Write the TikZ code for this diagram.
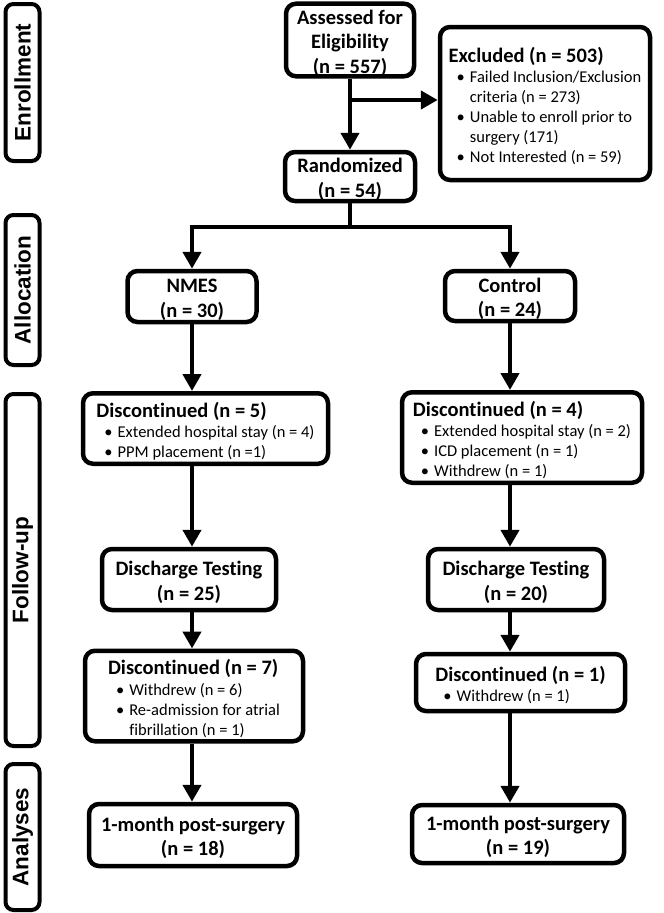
\documentclass[tikz,border=0pt]{standalone}
\usepackage{fontspec}
\setmainfont[Ligatures = NoCommon]{Carlito}
\newfontfamily\sideFamily{Liberation Sans}
\usepackage{tikz}
\usetikzlibrary{positioning, arrows.meta}
\newcommand{\titleFont}{\bfseries\fontsize{20.5}{24.5}\selectfont}
\newcommand{\itemFont}{\fontsize{16.5}{20}\selectfont}
\newcommand{\stageFont}{\sideFamily\bfseries\fontsize{22.5}{26}\selectfont}
\tikzstyle{chart} = [x = 1pt, y = -1pt]
\tikzstyle{stageStyle} = [draw, line width = 4pt, rounded corners = 8pt, rotate = 90, font = \stageFont, inner sep = 0pt, minimum height = 34pt]
\tikzstyle{countBoxStyle} = [draw, fill = white, line width = 4.5pt, rounded corners = 10pt, font = \titleFont, align = center, inner sep = 0pt]
\tikzstyle{listBoxStyle} = [draw, fill = white, line width = 4.5pt, rounded corners = 10pt, font = \itemFont, inner sep = 0pt]
\tikzstyle{flowLine} = [line width = 4.5pt]
\tikzstyle{flowArrow} = [flowLine, -{Triangle[length = 17pt, width = 18pt]}]
\newcommand{\stageLabel}[4]{\node [stageStyle, minimum width = #3] (#1) at (22.5, #2) {#4};}
\newcommand{\countBox}[6]{\node [countBoxStyle, minimum width = #4, minimum height = #5] (#1) at (#2, #3) {\rule{0pt}{20.5pt}#6};}
\newcommand{\listBox}[6]{\node [listBoxStyle, minimum width = #4, minimum height = #5] (#1) at (#2, #3)
  {\begin{tabular}{@{\hspace{8pt}}l@{\hspace{5pt}}l@{}}#6\end{tabular}};}
\newcommand{\listTitle}[1]{\multicolumn{2}{@{}l@{}}{\rule{0pt}{24pt}\titleFont #1}\\[0.5pt]}
\newcommand{\listItem}[1]{\textbullet & #1}
\newcommand{\listMore}[1]{& #1}

\begin{document}
\begin{tikzpicture}[chart]
  \useasboundingbox (0, 0) rectangle (664, 913);

  \stageLabel{enrollment}{82.5}{157pt}{Enrollment}
  \stageLabel{allocation}{290}{150pt}{Allocation}
  \stageLabel{followUp}{570}{352pt}{Follow-up}
  \stageLabel{analyses}{837}{146pt}{Analyses}

  \countBox{assess}{350}{40}{128pt}{72pt}{Assessed for\\Eligibility\\(n = 557)}
  \listBox{excl}{545}{103.5}{210pt}{153pt}{\listTitle{Excluded (n = 503)}
    \listItem{Failed Inclusion/Exclusion}\\ \listMore{criteria (n = 273)}\\
    \listItem{Unable to enroll prior to}\\ \listMore{surgery (171)}\\
    \listItem{Not Interested (n = 59)}}
  \countBox{rand}{350}{176.5}{130pt}{49pt}{Randomized\\(n = 54)}

  \countBox{nmes}{192}{296.5}{129pt}{51pt}{NMES\\(n = 30)}
  \countBox{ctrl}{510}{296}{130pt}{50pt}{Control\\(n = 24)}

  \listBox{discA}{205.5}{428.5}{245pt}{69pt}{\listTitle{Discontinued (n = 5)}
    \listItem{Extended hospital stay (n = 4)}\\
    \listItem{PPM placement (n =1)}}
  \listBox{discB}{522}{437.5}{240pt}{87pt}{\listTitle{Discontinued (n = 4)}
    \listItem{Extended hospital stay (n = 2)}\\
    \listItem{ICD placement (n = 1)}\\
    \listItem{Withdrew (n = 1)}}

  \countBox{testA}{189}{579.5}{174pt}{61pt}{Discharge Testing\\(n = 25)}
  \countBox{testB}{516}{579.5}{176pt}{61pt}{Discharge Testing\\(n = 20)}

  \listBox{discC}{194}{696}{218pt}{88pt}{\listTitle{Discontinued (n = 7)}
    \listItem{Withdrew (n = 6)}\\
    \listItem{Re-admission for atrial}\\ \listMore{fibrillation (n = 1)}}
  \listBox{discD}{520.5}{682.5}{209pt}{57pt}{\listTitle{Discontinued (n = 1)}
    \listItem{Withdrew (n = 1)}}

  \countBox{monthA}{193}{835}{208pt}{62pt}{1-month post-surgery\\(n = 18)}
  \countBox{monthB}{518}{834}{212pt}{58pt}{1-month post-surgery\\(n = 19)}

  \coordinate (exclBranch) at (350, 100);
  \coordinate (armSplit) at (350, 227);
  \draw [flowArrow] (assess) -- (rand);
  \draw [flowArrow] (exclBranch) -- (exclBranch -| excl.west);
  \draw [flowLine] (rand) -- (armSplit);
  \draw [flowArrow] (armSplit) -| (nmes.north);
  \draw [flowArrow] (armSplit) -| (ctrl.north);

  \draw [flowArrow] (nmes) -- (nmes |- discA.north);
  \draw [flowArrow] (nmes |- discA.south) -- (nmes |- testA.north);
  \draw [flowArrow] (nmes |- testA.south) -- (nmes |- discC.north);
  \draw [flowArrow] (nmes |- discC.south) -- (nmes |- monthA.north);

  \draw [flowArrow] (ctrl) -- (ctrl |- discB.north);
  \draw [flowArrow] (ctrl |- discB.south) -- (ctrl |- testB.north);
  \draw [flowArrow] (ctrl |- testB.south) -- (ctrl |- discD.north);
  \draw [flowArrow] (ctrl |- discD.south) -- (ctrl |- monthB.north);
\end{tikzpicture}
\end{document}
